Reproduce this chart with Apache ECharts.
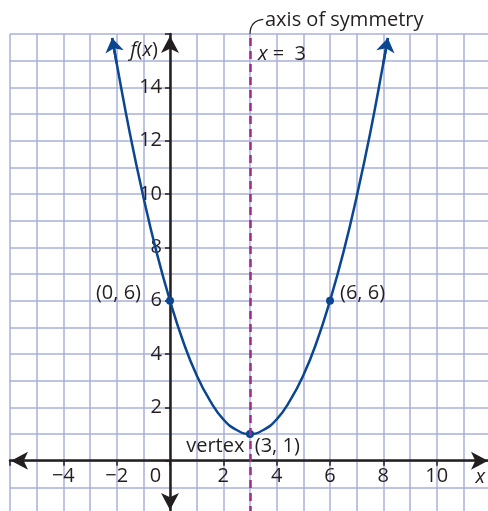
<!DOCTYPE html>
<html>
<head>
    <meta charset="UTF-8">
    <title>f(x) parabola</title>
    <script src="https://cdn.jsdelivr.net/npm/echarts@6/dist/echarts.min.js"></script>
    <style>
        html, body { margin: 0; padding: 0; background: #fff; }
        #main { width: 488px; height: 511px; }
    </style>
</head>
<body>
    <div id="main"></div>
    <script>
        // curve
        const xCurve = [-2.17, -2, -1.5, -1, -0.5, 0, 0.5, 1, 1.5, 2, 2.5, 3, 3.5, 4, 4.5, 5, 5.5, 6, 6.5, 7, 7.5, 8, 8.17];
        const yCurve = [15.85, 14.9, 12.25, 9.9, 7.8, 6, 4.45, 3.2, 2.25, 1.55, 1.15, 1, 1.15, 1.55, 2.25, 3.2, 4.45, 6, 7.8, 9.9, 12.25, 14.9, 15.85];

        // marked points
        const pointX = [0, 6, 3];
        const pointY = [6, 6, 1];
        const pointText = ['(0, 6)', '(6, 6)', 'vertex  (3, 1)'];

        const symmetryX = 3;

        // tick labels
        const xTicks = [-4, -2, 0, 2, 4, 6, 8, 10];
        const yTicks = [2, 4, 6, 8, 10, 12, 14];

        const xMin = -6, xMax = 12, yMin = -2, yMax = 16;
        const box = { left: 10, top: 34, width: 480, height: 480 };

        const ink = '#231f20';
        const gridColor = '#a9b0d9';
        const curveColor = '#0b4690';
        const dashColor = '#9c2d8f';
        const font = "'Open Sans', sans-serif";

        const n = xCurve.length;
        const curve = xCurve.map((x, i) => [x, yCurve[i]]);

        // move the axes from the grid edges to the origin
        const xAxisOffset = -box.height * (0 - yMin) / (yMax - yMin);
        const yAxisOffset = -box.width * (0 - xMin) / (xMax - xMin);

        const labelPos = [
            { position: 'left', distance: 25, offset: [0, -7.5] },
            { position: 'right', distance: 6, offset: [0, -7.5] },
            { position: 'bottom', distance: 0, offset: [-7, -2] }
        ];

        const axisLine = (offset) => ({
            onZero: false,
            symbol: ['arrow', 'arrow'],
            symbolSize: [13.5, 17],
            symbolOffset: offset,
            lineStyle: { color: ink, width: 2.5 }
        });
        const gridLines = {
            splitLine: { show: true, lineStyle: { color: gridColor, width: 1.5 } },
            minorSplitLine: { show: true, lineStyle: { color: gridColor, width: 1.5 } },
            minorTick: { show: false, splitNumber: 2 }
        };
        const tick = { show: true, length: 5, lineStyle: { color: ink, width: 1.5 } };

        const chart = echarts.init(document.getElementById('main'));
        chart.setOption({
            animation: false,
            textStyle: { fontFamily: font },
            grid: Object.assign({ containLabel: false, outerBoundsMode: 'none' }, box),
            xAxis: Object.assign({
                type: 'value',
                min: xMin, max: xMax, interval: 2,
                position: 'bottom',
                offset: xAxisOffset,
                axisLine: axisLine([1, -2]),
                axisTick: tick,
                axisLabel: {
                    color: ink, fontFamily: font, fontSize: 20, margin: 6,
                    formatter: v => xTicks.indexOf(v) < 0 ? '' :
                        (v === 0 ? '{z|0}' : (v < 0 ? '\u2212' + Math.abs(v) : String(v))),
                    rich: { z: { padding: [0, 29, 0, 0], fontSize: 20, fontFamily: font, color: ink } }
                }
            }, gridLines),
            yAxis: Object.assign({
                type: 'value',
                min: yMin, max: yMax, interval: 2,
                position: 'left',
                offset: yAxisOffset,
                axisLine: axisLine([4, -2]),
                axisTick: tick,
                axisLabel: {
                    color: ink, fontFamily: font, fontSize: 20, margin: 8,
                    formatter: v => yTicks.indexOf(v) < 0 ? '' : String(v)
                }
            }, gridLines),
            series: [
                {
                    type: 'line',
                    data: curve,
                    smooth: true,
                    symbol: 'none',
                    lineStyle: { color: curveColor, width: 2.5 },
                    markLine: {
                        silent: true,
                        symbol: 'none',
                        label: { show: false },
                        lineStyle: { color: dashColor, width: 2.5, type: [8, 5] },
                        data: [{ xAxis: symmetryX }]
                    },
                    z: 3
                },
                {
                    type: 'lines',
                    coordinateSystem: 'cartesian2d',
                    symbol: ['none', 'arrow'],
                    symbolSize: 14,
                    lineStyle: { color: curveColor, width: 2.5, opacity: 1 },
                    data: [
                        { coords: [curve[1], curve[0]] },
                        { coords: [curve[n - 2], curve[n - 1]] }
                    ],
                    z: 3
                },
                {
                    type: 'lines',
                    coordinateSystem: 'cartesian2d',
                    clip: false,
                    symbol: 'none',
                    lineStyle: { color: ink, width: 1.2, curveness: 0.45, opacity: 1 },
                    data: [{ coords: [[symmetryX, 16], [symmetryX + 0.5, 16.55]] }],
                    z: 3
                },
                {
                    type: 'scatter',
                    symbolSize: 8,
                    itemStyle: { color: curveColor, opacity: 1 },
                    label: { show: true, color: ink, fontSize: 20, fontFamily: font },
                    data: pointX.map((x, i) => ({
                        value: [x, pointY[i]],
                        label: Object.assign({ formatter: pointText[i] }, labelPos[i])
                    })),
                    markPoint: {
                        symbol: 'circle',
                        symbolSize: 0,
                        silent: true,
                        label: {
                            show: true, color: ink, fontSize: 20, fontFamily: font,
                            rich: { i: { fontStyle: 'italic', fontSize: 20, fontFamily: font, color: ink } }
                        },
                        data: [
                            { coord: [symmetryX, 15.25], label: { formatter: '{i|x} =  3', position: 'right', distance: 8 } },
                            { coord: [symmetryX, 16], label: { formatter: 'axis of symmetry', position: 'right', distance: 15, offset: [0, -14] } },
                            { coord: [0, 16], label: { formatter: '{i|f}({i|x})', position: 'left', distance: 12, offset: [0, 16] } },
                            { coord: [12, 0], label: { formatter: '{i|x}', position: 'left', distance: 5, offset: [0, 17] } }
                        ]
                    },
                    z: 4
                }
            ]
        });
    </script>
</body>
</html>
